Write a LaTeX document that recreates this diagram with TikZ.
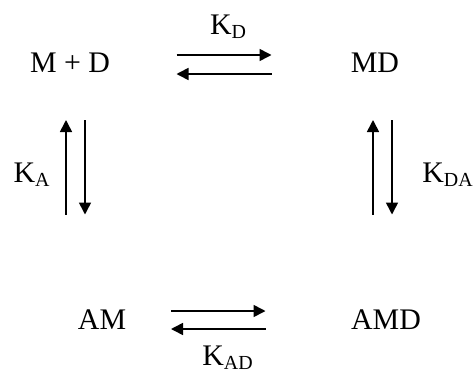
\documentclass[tikz,border=0pt]{standalone}
\usepackage{fontspec}
\setmainfont{Liberation Serif}
\usepackage{tikz}
\usetikzlibrary{arrows.meta}

% rate constant K with a lowered subscript
\newcommand{\kconst}[1]{K\raisebox{-4bp}{\fontsize{20}{20}\selectfont #1}}

\tikzset{
    species/.style={anchor=base, inner sep=0pt, font=\fontsize{30}{36}\selectfont},
    rate/.style={anchor=base, inner sep=0pt, font=\fontsize{30}{36}\selectfont},
    eqarrow/.style={-{Triangle[length=12bp, width=12bp]}, line width=1.6bp}
}

\begin{document}
\begin{tikzpicture}[x=1bp, y=1bp]
    \useasboundingbox (0,0) rectangle (476,372);

    % the four species
    \node[species] (md0) at (70,300) {M + D};
    \node[species] (md) at (375,300) {MD};
    \node[species] (am) at (102,43) {AM};
    \node[species] (amd) at (386,43) {AMD};

    % ends of each pair of arrows
    \coordinate (top w) at (176.5,307.5);
    \coordinate (top e) at (271.5,307.5);
    \coordinate (bot w) at (171,52);
    \coordinate (bot e) at (265.5,52);
    \coordinate (left s) at (75.5,157.5);
    \coordinate (left n) at (75.5,252);
    \coordinate (right s) at (382.5,157.5);
    \coordinate (right n) at (382.5,252);

    % M + D <-> MD
    \draw[eqarrow] ([yshift=9.5bp]top w) -- ([yshift=9.5bp]top e);
    \draw[eqarrow] ([yshift=-9.5bp]top e) -- ([yshift=-9.5bp]top w);
    \node[rate] (kd) at (228,338) {\kconst{D}};

    % AM <-> AMD
    \draw[eqarrow] ([yshift=9bp]bot w) -- ([yshift=9bp]bot e);
    \draw[eqarrow] ([yshift=-9bp]bot e) -- ([yshift=-9bp]bot w);
    \node[rate] (kad) at (227.5,7) {\kconst{AD}};

    % AM <-> M + D
    \draw[eqarrow] ([xshift=-9.5bp]left s) -- ([xshift=-9.5bp]left n);
    \draw[eqarrow] ([xshift=9.5bp]left n) -- ([xshift=9.5bp]left s);
    \node[rate] (ka) at (31.5,190) {\kconst{A}};

    % AMD <-> MD
    \draw[eqarrow] ([xshift=-9.5bp]right s) -- ([xshift=-9.5bp]right n);
    \draw[eqarrow] ([xshift=9.5bp]right n) -- ([xshift=9.5bp]right s);
    \node[rate] (kda) at (447.5,190) {\kconst{DA}};
\end{tikzpicture}
\end{document}
